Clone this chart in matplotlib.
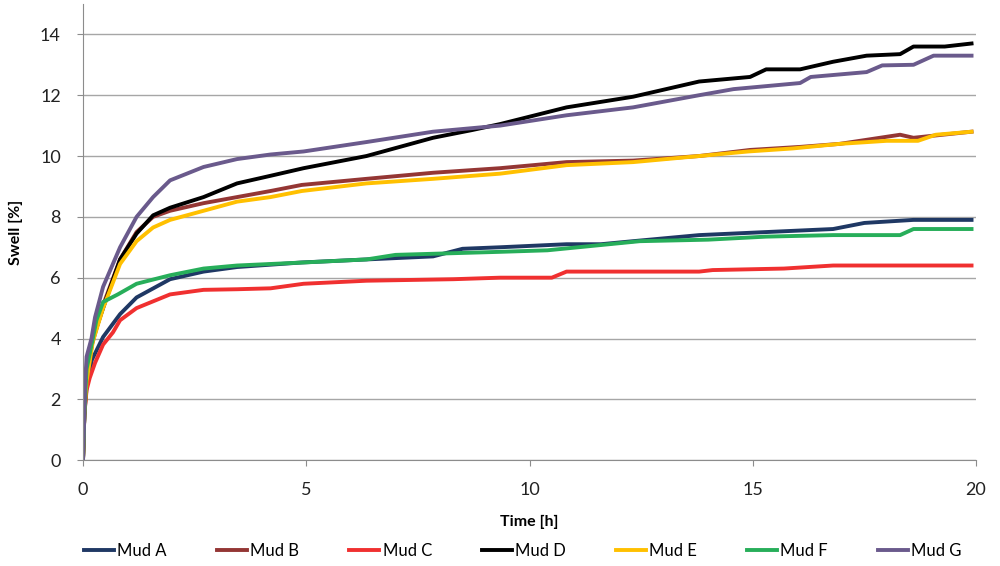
import matplotlib
matplotlib.use("Agg")
import matplotlib.pyplot as plt

plt.rcParams['font.family'] = ['Lato', 'DejaVu Sans']

# swell curves as (time [h], swell [%])
t_a = [0, 0.03, 0.08, 0.2, 0.45, 0.83, 1.2, 1.95, 2.7, 3.45, 4.9, 6.35, 7.84, 8.5, 9.34, 10.83, 11.6, 12.32, 13.8, 15.3, 16.8, 17.5, 18.6, 19.9]
s_a = [0, 1.5, 2.4, 3.3, 4.05, 4.8, 5.35, 5.95, 6.2, 6.35, 6.5, 6.6, 6.7, 6.95, 7.0, 7.1, 7.1, 7.2, 7.4, 7.5, 7.6, 7.8, 7.9, 7.9]

t_b = [0, 0.03, 0.08, 0.2, 0.45, 0.83, 1.2, 1.57, 1.95, 2.7, 3.45, 4.2, 4.9, 6.35, 7.84, 9.34, 10.83, 12.32, 13.8, 14.94, 16.06, 16.95, 17.85, 18.3, 18.6, 19.9]
s_b = [0, 1.5, 2.6, 3.8, 5.1, 6.6, 7.5, 8.0, 8.2, 8.45, 8.65, 8.85, 9.05, 9.25, 9.45, 9.6, 9.8, 9.85, 10.0, 10.2, 10.3, 10.4, 10.6, 10.7, 10.6, 10.8]

t_c = [0, 0.03, 0.08, 0.15, 0.27, 0.45, 0.67, 0.83, 1.2, 1.95, 2.7, 3.45, 4.2, 4.94, 6.35, 8.3, 9.34, 10.5, 10.83, 13.8, 14.1, 15.7, 16.8, 19.9]
s_c = [0, 1.5, 2.3, 2.7, 3.2, 3.8, 4.2, 4.6, 5.0, 5.45, 5.6, 5.62, 5.65, 5.8, 5.9, 5.95, 6.0, 6.0, 6.2, 6.2, 6.25, 6.3, 6.4, 6.4]

t_d = [0, 0.03, 0.08, 0.22, 0.45, 0.83, 1.2, 1.57, 1.95, 2.7, 3.45, 4.2, 4.94, 6.35, 7.84, 8.7, 9.34, 10.83, 12.32, 13.8, 14.94, 15.3, 16.06, 16.8, 17.55, 18.3, 18.6, 19.3, 19.9]
s_d = [0, 1.5, 2.8, 4.0, 5.0, 6.6, 7.45, 8.05, 8.3, 8.65, 9.1, 9.35, 9.6, 10.0, 10.6, 10.85, 11.05, 11.6, 11.95, 12.45, 12.6, 12.85, 12.85, 13.1, 13.3, 13.35, 13.6, 13.6, 13.7]

t_e = [0, 0.03, 0.08, 0.22, 0.45, 0.83, 1.2, 1.57, 1.95, 2.7, 3.45, 4.2, 4.9, 6.35, 7.84, 9.34, 10.83, 12.32, 13.8, 14.9, 15.9, 16.95, 18.0, 18.7, 19.1, 19.9]
s_e = [0, 1.5, 2.6, 3.9, 5.0, 6.45, 7.2, 7.65, 7.9, 8.2, 8.5, 8.65, 8.85, 9.1, 9.25, 9.42, 9.7, 9.8, 10.0, 10.15, 10.25, 10.4, 10.5, 10.5, 10.7, 10.8]

t_f = [0, 0.03, 0.08, 0.22, 0.3, 0.45, 0.78, 1.2, 1.95, 2.7, 3.45, 4.94, 6.35, 7.0, 9.34, 10.4, 12.47, 14.0, 15.3, 16.8, 18.3, 18.6, 19.9]
s_f = [0, 1.5, 3.0, 4.0, 4.6, 5.2, 5.45, 5.8, 6.08, 6.3, 6.4, 6.5, 6.6, 6.75, 6.85, 6.9, 7.2, 7.25, 7.35, 7.4, 7.4, 7.6, 7.6]

t_g = [0, 0.03, 0.05, 0.08, 0.19, 0.27, 0.45, 0.83, 1.2, 1.57, 1.95, 2.7, 3.45, 4.2, 4.94, 6.35, 7.84, 9.34, 10.83, 12.32, 13.8, 14.57, 16.06, 16.3, 17.55, 17.9, 18.6, 19.05, 19.9]
s_g = [0, 1.5, 2.6, 3.4, 4.0, 4.7, 5.7, 7.0, 8.0, 8.65, 9.2, 9.64, 9.9, 10.05, 10.15, 10.46, 10.8, 11.0, 11.34, 11.6, 12.0, 12.2, 12.4, 12.6, 12.76, 12.98, 13.0, 13.3, 13.3]

names = ['Mud A', 'Mud B', 'Mud C', 'Mud D', 'Mud E', 'Mud F', 'Mud G']
times = [t_a, t_b, t_c, t_d, t_e, t_f, t_g]
swell = [s_a, s_b, s_c, s_d, s_e, s_f, s_g]
colors = ['#1f3864', '#943634', '#f03030', '#000000', '#ffc000', '#27ae5a', '#6a5a8c']

fig = plt.figure(figsize=(10, 5.66), dpi=100)
ax = fig.add_axes([0.083, 0.187, 0.893, 0.806])

for t, s, n, c in zip(times, swell, names, colors):
    ax.plot(t, s, color=c, lw=2.8, label=n, solid_joinstyle='round')

ax.set_xlim(0, 20)
ax.set_ylim(0, 15)
ax.set_xticks([0, 5, 10, 15, 20])
ax.set_yticks(range(0, 15, 2))
ax.grid(axis='y', color='#a6a6a6', lw=1)
ax.set_axisbelow(True)
for side in ['top', 'right']:
    ax.spines[side].set_visible(False)
for side in ['left', 'bottom']:
    ax.spines[side].set_color('#8c8c8c')
ax.tick_params(axis='both', labelsize=13, colors='#8c8c8c', labelcolor='#222222', length=4)
ax.tick_params(axis='x', pad=12)
ax.tick_params(axis='y', pad=12)

ax.set_xlabel('Time [h]', fontsize=11.5, fontweight='bold', labelpad=12)
ax.set_ylabel('Swell [%]', fontsize=11.5, fontweight='bold', labelpad=12)

fig.legend(loc='center', bbox_to_anchor=(0.523, 0.027), ncol=7, frameon=False,
           fontsize=12, handlelength=1.8, columnspacing=3.0, handletextpad=0.2)

fig.savefig('out.png', dpi=100)
